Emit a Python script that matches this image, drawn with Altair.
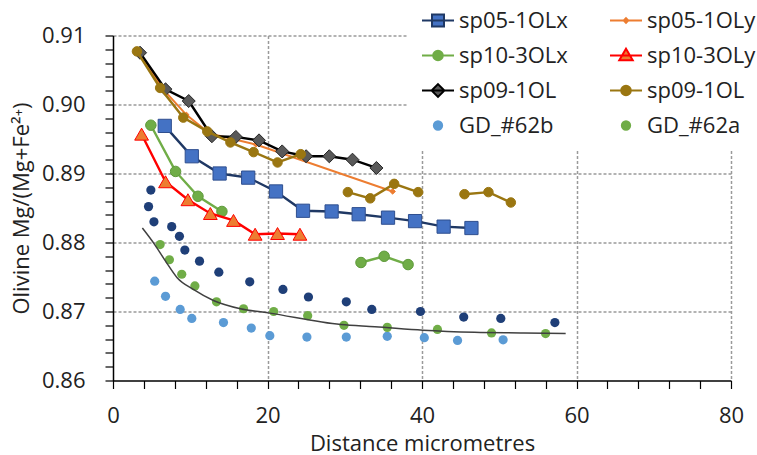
import altair as alt
import pandas as pd

# ---- measured profiles: distance (micrometres) and Mg/(Mg+Fe2+) ----
sp05x_d = [6.7, 10.2, 13.8, 17.5, 21.1, 24.6, 28.3, 31.8, 35.6, 39.1, 42.8, 46.4]
sp05x_v = [0.8969, 0.8925, 0.8900, 0.8894, 0.8874, 0.8846, 0.8845, 0.8841, 0.8836, 0.8831, 0.8823, 0.8821]

sp05y_d = [3.3, 6.5, 9.5, 12.5, 15.5, 18.5, 36.2]
sp05y_v = [0.9076, 0.9022, 0.8985, 0.8958, 0.8950, 0.8942, 0.8874]

sp10x_d = [4.9, 8.1, 11.0, 14.1, 32.1, 35.1, 38.2]
sp10x_v = [0.8970, 0.8903, 0.8867, 0.8845, 0.8771, 0.8780, 0.8768]
sp10x_seg = [1, 1, 1, 1, 2, 2, 2]

sp10y_d = [3.7, 6.8, 9.7, 12.6, 15.6, 18.4, 21.3, 24.2]
sp10y_v = [0.8957, 0.8888, 0.8862, 0.8842, 0.8832, 0.8812, 0.8813, 0.8812]

sp09k_d = [3.5, 6.8, 9.8, 12.8, 15.9, 18.9, 21.9, 25.0, 28.0, 31.0, 34.1]
sp09k_v = [0.9075, 0.9022, 0.9005, 0.8954, 0.8953, 0.8948, 0.8932, 0.8925, 0.8925, 0.8920, 0.8908]

sp09g_d = [3.1, 6.1, 9.1, 12.2, 15.2, 18.2, 21.3, 24.3, 30.4, 33.3, 36.4, 39.5, 45.5, 48.6, 51.5]
sp09g_v = [0.9077, 0.9024, 0.8981, 0.8961, 0.8945, 0.8931, 0.8916, 0.8928,
           0.8873, 0.8864, 0.8885, 0.8873, 0.8870, 0.8873, 0.8858]
sp09g_seg = [1, 1, 1, 1, 1, 1, 1, 1, 2, 2, 2, 2, 3, 3, 3]

gd62b_d = [5.4, 6.8, 8.7, 10.2, 14.3, 17.9, 20.3, 25.1, 30.2, 35.5, 40.3, 44.6, 50.5]
gd62b_v = [0.8744, 0.8722, 0.8703, 0.8690, 0.8684, 0.8676, 0.8665, 0.8663, 0.8663,
           0.8664, 0.8662, 0.8658, 0.8659]

gd62a_d = [6.1, 7.3, 8.9, 10.6, 13.4, 16.9, 20.8, 25.2, 29.9, 35.5, 42.0, 49.0, 56.0]
gd62a_v = [0.8797, 0.8775, 0.8754, 0.8737, 0.8714, 0.8704, 0.8700, 0.8694, 0.8680,
           0.8677, 0.8674, 0.8669, 0.8668]

navy_d = [4.9, 4.6, 5.3, 7.6, 8.6, 9.3, 11.2, 13.7, 17.7, 22.0, 25.3, 30.2, 33.5, 39.8, 45.4, 50.2, 57.2]
navy_v = [0.8876, 0.8852, 0.8830, 0.8823, 0.8809, 0.8789, 0.8773, 0.8757, 0.8743, 0.8732,
          0.8721, 0.8714, 0.8703, 0.8700, 0.8692, 0.8690, 0.8684]

fit_d = [3.8, 5.4, 6.8, 8.3, 10.4, 13.0, 16.5, 20.1, 29.5, 33.9, 40.1, 46.8, 53.2, 58.6]
fit_v = [0.8821, 0.8797, 0.8773, 0.8749, 0.8732, 0.8716, 0.8704, 0.8698, 0.8681,
         0.8678, 0.8673, 0.8670, 0.8669, 0.8668]

# legend entries, listed column by column (the legend fills its columns top to bottom);
# the gold sp09 key carries a trailing space to stay unique
legend_keys = ["sp05-1OLx", "sp10-3OLx", "sp09-1OL", "GD_#62b",
               "sp05-1OLy", "sp10-3OLy", "sp09-1OL ", "GD_#62a"]

FONT = "Open Sans"
TXT = "#222222"
W, H = 618, 345

x_ticks = list(range(0, 81, 4))
y_ticks = [round(0.86 + 0.002 * i, 3) for i in range(26)]

x_axis = alt.Axis(
    values=x_ticks,
    title="Distance micrometres",
    titleFont=FONT, titleFontSize=22, titleFontWeight="normal", titleColor=TXT,
    titleY=69.5, titleBaseline="alphabetic",
    labelExpr="datum.value % 20 === 0 ? datum.value : ''",
    labelFont=FONT, labelFontSize=22, labelColor=TXT, labelPadding=17,
    labelFlush=False, labelOverlap=False,
    tickSize=8, tickColor="black", tickWidth=1.2,
    domainColor="black", domainWidth=1.5,
    grid=True, gridColor="#9a9a9a", gridDash=[3, 2], gridWidth=1.5,
    gridOpacity={"condition": {"test": "datum.value % 20 === 0 && datum.value > 0", "value": 1}, "value": 0},
)

y_axis = alt.Axis(
    values=y_ticks,
    title="Olivine Mg/(Mg+Fe²⁺)",
    titleFont=FONT, titleFontSize=22, titleFontWeight="normal", titleColor=TXT,
    titleX=-92, titleY=H / 2, titleBaseline="middle", titleAngle=270,
    labelExpr="abs(datum.value * 100 - round(datum.value * 100)) < 0.000001 ? format(datum.value, '.2f') : ''",
    labelFont=FONT, labelFontSize=22, labelColor=TXT, labelPadding=20,
    labelOverlap=False,
    tickSize=8, tickColor="black", tickWidth=1.2,
    domainColor="black", domainWidth=1.5,
    grid=True, gridColor="#9a9a9a", gridDash=[3, 2], gridWidth=1.5,
    gridOpacity={"condition": {"test": "abs(datum.value * 100 - round(datum.value * 100)) < 0.000001 && datum.value > 0.861", "value": 1}, "value": 0},
)


def X():
    return alt.X("d:Q", scale=alt.Scale(domain=[0, 80], nice=False, zero=False), axis=x_axis)


def Y():
    return alt.Y("v:Q", scale=alt.Scale(domain=[0.86, 0.91], nice=False, zero=False), axis=y_axis)


def frame(d, v, seg=None):
    return pd.DataFrame({"d": d, "v": v, "seg": seg if seg is not None else [1] * len(d)})


def line(df, color, width=2.4):
    return alt.Chart(df).mark_line(color=color, strokeWidth=width).encode(
        x=X(), y=Y(), detail="seg:N")


def points(df, shape, size, fill, stroke, sw=1.0):
    return alt.Chart(df).mark_point(shape=shape, size=size, filled=True, fill=fill,
                                    stroke=stroke, strokeWidth=sw, opacity=1).encode(x=X(), y=Y())


f05x = frame(sp05x_d, sp05x_v)
f05y = frame(sp05y_d, sp05y_v)
f10x = frame(sp10x_d, sp10x_v, sp10x_seg)
f10y = frame(sp10y_d, sp10y_v)
f09k = frame(sp09k_d, sp09k_v)
f09g = frame(sp09g_d, sp09g_v, sp09g_seg)
f62b = frame(gd62b_d, gd62b_v)
f62a = frame(gd62a_d, gd62a_v)
fnav = frame(navy_d, navy_v)
ffit = frame(fit_d, fit_v)

layers = [
    line(f05x, "#1f3864"), points(f05x, "square", 175, "#4472c4", "#2f4f8f"),
    line(f05y, "#ed7d31", 2.0), points(f05y, "diamond", 30, "#ed7d31", "#ed7d31"),
    line(f10x, "#70ad47"), points(f10x, "circle", 110, "#70ad47", "#5e9a3a"),
    line(f10y, "#ff0000"), points(f10y, "triangle-up", 190, "#ed7d31", "#ff0000"),
    line(f09k, "#000000"), points(f09k, "diamond", 170, "#595959", "#262626"),
    line(f09g, "#9a7611"), points(f09g, "circle", 90, "#9a7611", "#9a7611"),
    points(f62b, "circle", 85, "#5b9bd5", "#5b9bd5", 0),
    points(f62a, "circle", 85, "#70ad47", "#70ad47", 0),
    points(fnav, "circle", 85, "#1f3f78", "#1f3f78", 0),
    alt.Chart(ffit).mark_line(color="#404040", strokeWidth=1.5, interpolate="monotone").encode(x=X(), y=Y()),
]

# legend glyphs: a short line with the series marker, in unit coordinates
SQUARE = "M-1,0H1M-0.375,-0.375H0.375V0.375H-0.375Z"
SMALL_DIAMOND = "M-1,0H1M0,-0.14L0.14,0L0,0.14L-0.14,0Z"
CIRCLE_LINE = "M-1,0H1M0.3,0A0.3,0.3 0 1,1 -0.3,0A0.3,0.3 0 1,1 0.3,0Z"
TRIANGLE = "M-1,0H1M0,-0.42L0.42,0.3L-0.42,0.3Z"
DIAMOND = "M-1,0H1M0,-0.4L0.4,0L0,0.4L-0.4,0Z"
DOT = "M0.26,0A0.26,0.26 0 1,1 -0.26,0A0.26,0.26 0 1,1 0.26,0Z"

legend_paths = [SQUARE, CIRCLE_LINE, DIAMOND, DOT,
                SMALL_DIAMOND, TRIANGLE, CIRCLE_LINE, DOT]
legend_fills = ["#4472c4", "#70ad47", "#595959", "#5b9bd5",
                "#ed7d31", "#ed7d31", "#9a7611", "#70ad47"]
legend_strokes = ["#1f3864", "#70ad47", "#000000", "#5b9bd5",
                  "#ed7d31", "#ff0000", "#9a7611", "#70ad47"]

legend = alt.Legend(
    title=None, orient="none", legendX=294, legendY=-46, columns=2,
    symbolSize=1024, symbolStrokeWidth=2, symbolOpacity=1,
    labelFont=FONT, labelFontSize=22, labelColor=TXT, labelOffset=4,
    rowPadding=7, columnPadding=38, padding=14, fillColor="white",
)

first_d = {"sp05-1OLx": sp05x_d[0], "sp05-1OLy": sp05y_d[0], "sp10-3OLx": sp10x_d[0],
           "sp10-3OLy": sp10y_d[0], "sp09-1OL": sp09k_d[0], "sp09-1OL ": sp09g_d[0],
           "GD_#62b": gd62b_d[0], "GD_#62a": gd62a_d[0]}
first_v = {"sp05-1OLx": sp05x_v[0], "sp05-1OLy": sp05y_v[0], "sp10-3OLx": sp10x_v[0],
           "sp10-3OLy": sp10y_v[0], "sp09-1OL": sp09k_v[0], "sp09-1OL ": sp09g_v[0],
           "GD_#62b": gd62b_v[0], "GD_#62a": gd62a_v[0]}
leg_df = pd.DataFrame({"series": legend_keys,
                       "d": [first_d[k] for k in legend_keys],
                       "v": [first_v[k] for k in legend_keys]})

legend_layer = alt.Chart(leg_df).mark_point(filled=True, opacity=0).encode(
    x=X(), y=Y(),
    shape=alt.Shape("series:N", scale=alt.Scale(domain=legend_keys, range=legend_paths), legend=legend),
    fill=alt.Fill("series:N", scale=alt.Scale(domain=legend_keys, range=legend_fills), legend=legend),
    stroke=alt.Stroke("series:N", scale=alt.Scale(domain=legend_keys, range=legend_strokes), legend=legend),
)

chart = alt.layer(*layers, legend_layer).properties(
    width=W, height=H,
    autosize=alt.AutoSizeParams(type="none"),
    padding={"left": 113, "top": 35.5, "right": 757 - 113 - W, "bottom": 455 - 35.5 - H},
    background="white",
).configure_view(stroke=None)

chart.save("out.html", embed_options={"renderer": "svg", "actions": False})
